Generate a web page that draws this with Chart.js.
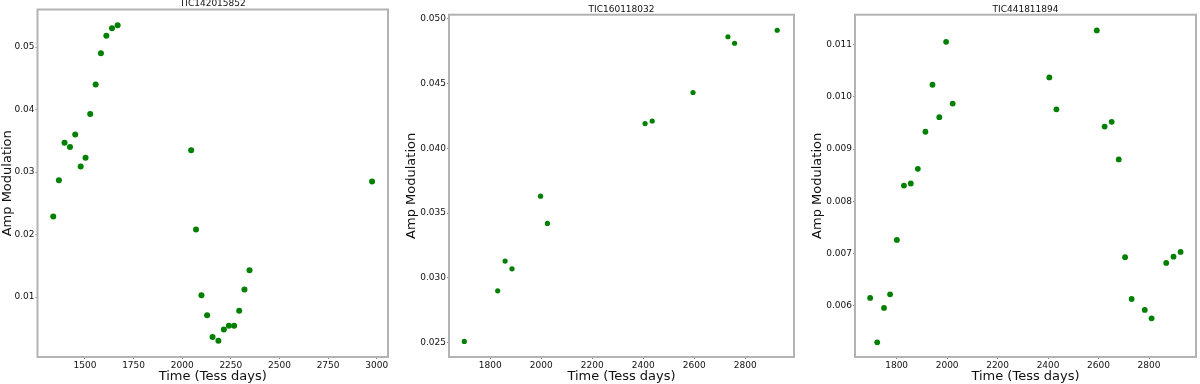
<!DOCTYPE html>
<html>
<head>
<meta charset="utf-8">
<script src="https://cdn.jsdelivr.net/npm/chart.js@4/dist/chart.umd.min.js"></script>
<style>
  body { margin: 0; background: #fff; }
  .panel { position: absolute; top: 0; width: 400px; height: 384px; }
</style>
</head>
<body>
<div class="panel" style="left:0px"><canvas id="c1" width="400" height="384"></canvas></div>
<div class="panel" style="left:400px"><canvas id="c2" width="400" height="384"></canvas></div>
<div class="panel" style="left:800px"><canvas id="c3" width="400" height="384"></canvas></div>
<script>
// TIC142015852
const time1 = [1337, 1366, 1395, 1423, 1450, 1478, 1503, 1527, 1555, 1582, 1610, 1639, 1668,
  2046, 2071, 2099, 2128, 2156, 2186, 2214, 2240, 2267, 2293, 2320, 2346, 2976];
const amp1 = [0.0229, 0.0287, 0.0347, 0.0340, 0.0360, 0.0309, 0.0323, 0.0393, 0.0440, 0.0490, 0.0518, 0.0530, 0.0535,
  0.0335, 0.0208, 0.0103, 0.0071, 0.0036, 0.0030, 0.0048, 0.0054, 0.0054, 0.0078, 0.0112, 0.0143, 0.0285];
const xTicks1 = [1500, 1750, 2000, 2250, 2500, 2750, 3000];
const yTicks1 = [0.01, 0.02, 0.03, 0.04, 0.05];

// TIC160118032
const time2 = [1698, 1829, 1858, 1885, 1997, 2024, 2407, 2435, 2595, 2732, 2758, 2925];
const amp2 = [0.0251, 0.0290, 0.0313, 0.0307, 0.0363, 0.0342, 0.0419, 0.0421, 0.0443, 0.0486, 0.0481, 0.0491];
const xTicks2 = [1800, 2000, 2200, 2400, 2600, 2800];
const yTicks2 = [0.025, 0.030, 0.035, 0.040, 0.045, 0.050];

// TIC441811894
const time3 = [1695, 1723, 1750, 1774, 1801, 1829, 1856, 1884, 1914, 1942, 1969, 1996, 2022,
  2405, 2433, 2593, 2624, 2652, 2680, 2705, 2731, 2783, 2810, 2868, 2897, 2925];
const amp3 = [0.00615, 0.00530, 0.00596, 0.00622, 0.00726, 0.00830, 0.00834, 0.00862, 0.00933, 0.01023, 0.00961, 0.01105, 0.00987,
  0.01037, 0.00976, 0.01127, 0.00943, 0.00952, 0.00880, 0.00693, 0.00613, 0.00592, 0.00576, 0.00682, 0.00694, 0.00703];
const xTicks3 = [1800, 2000, 2200, 2400, 2600, 2800];
const yTicks3 = [0.006, 0.007, 0.008, 0.009, 0.010, 0.011];

Chart.defaults.font.family = "'DejaVu Sans', sans-serif";
Chart.defaults.color = '#111';

// matplotlib style box + small title above the axes
const framePlugin = {
  id: 'frame',
  afterDatasetsDraw(chart, args, opts) {
    const a = chart.chartArea;
    const ctx = chart.ctx;
    ctx.save();
    ctx.strokeStyle = '#b3b3b3';
    ctx.lineWidth = 2;
    ctx.strokeRect(a.left, a.top, a.right - a.left, a.bottom - a.top);
    ctx.fillStyle = '#111';
    ctx.font = "9px 'DejaVu Sans'";
    ctx.textAlign = 'center';
    ctx.textBaseline = 'middle';
    ctx.fillText(opts.text, (a.left + a.right) / 2, a.top - 5.5);
    ctx.restore();
  }
};

function makePanel(id, cfg) {
  const pts = cfg.xs.map((x, i) => ({ x: x, y: cfg.ys[i] }));
  return new Chart(document.getElementById(id), {
    type: 'scatter',
    data: {
      datasets: [{
        data: pts,
        backgroundColor: '#008000',
        borderWidth: 0,
        pointRadius: cfg.radius
      }]
    },
    options: {
      responsive: false,
      animation: false,
      events: [],
      layout: { padding: { left: 0, right: cfg.padRight, top: cfg.padTop, bottom: 0 } },
      plugins: {
        legend: { display: false },
        tooltip: { enabled: false },
        frame: { text: cfg.title }
      },
      scales: {
        x: {
          type: 'linear',
          min: cfg.xMin,
          max: cfg.xMax,
          afterBuildTicks: s => { s.ticks = cfg.xTicks.map(v => ({ value: v })); },
          afterFit: s => { s.height = 27; s.paddingLeft = 0; s.paddingRight = 0; },
          grid: { drawOnChartArea: false, drawTicks: true, tickLength: 2, color: '#888' },
          border: { display: false },
          ticks: { font: { size: 9 }, padding: 1, maxRotation: 0, callback: v => String(v) },
          title: { display: true, text: 'Time (Tess days)', font: { size: 13 }, padding: { top: 0, bottom: 0 } }
        },
        y: {
          type: 'linear',
          min: cfg.yMin,
          max: cfg.yMax,
          afterBuildTicks: s => { s.ticks = cfg.yTicks.map(v => ({ value: v })); },
          afterFit: s => { s.width = cfg.yWidth; s.paddingTop = 0; s.paddingBottom = 0; },
          grid: { drawOnChartArea: false, drawTicks: true, tickLength: 2, color: '#888' },
          border: { display: false },
          ticks: { font: { size: 9 }, padding: 1, callback: v => v.toFixed(cfg.decimals) },
          title: { display: true, text: 'Amp Modulation', font: { size: 13 }, padding: { top: cfg.yTitlePad, bottom: 0 } }
        }
      }
    },
    plugins: [framePlugin]
  });
}

makePanel('c1', {
  title: 'TIC142015852', xs: time1, ys: amp1, xTicks: xTicks1, yTicks: yTicks1,
  xMin: 1256, xMax: 3058, yMin: 0.0004, yMax: 0.056, decimals: 2,
  yWidth: 37.5, padRight: 12, padTop: 9.5, yTitlePad: 0, radius: 3
});
makePanel('c2', {
  title: 'TIC160118032', xs: time2, ys: amp2, xTicks: xTicks2, yTicks: yTicks2,
  xMin: 1638, xMax: 2991, yMin: 0.0239, yMax: 0.0503, decimals: 3,
  yWidth: 49, padRight: 6, padTop: 14.7, yTitlePad: 4, radius: 2.6
});
makePanel('c3', {
  title: 'TIC441811894', xs: time3, ys: amp3, xTicks: xTicks3, yTicks: yTicks3,
  xMin: 1635, xMax: 2986, yMin: 0.00502, yMax: 0.01157, decimals: 3,
  yWidth: 55, padRight: 1, padTop: 14.7, yTitlePad: 10, radius: 2.9
});
</script>
</body>
</html>
